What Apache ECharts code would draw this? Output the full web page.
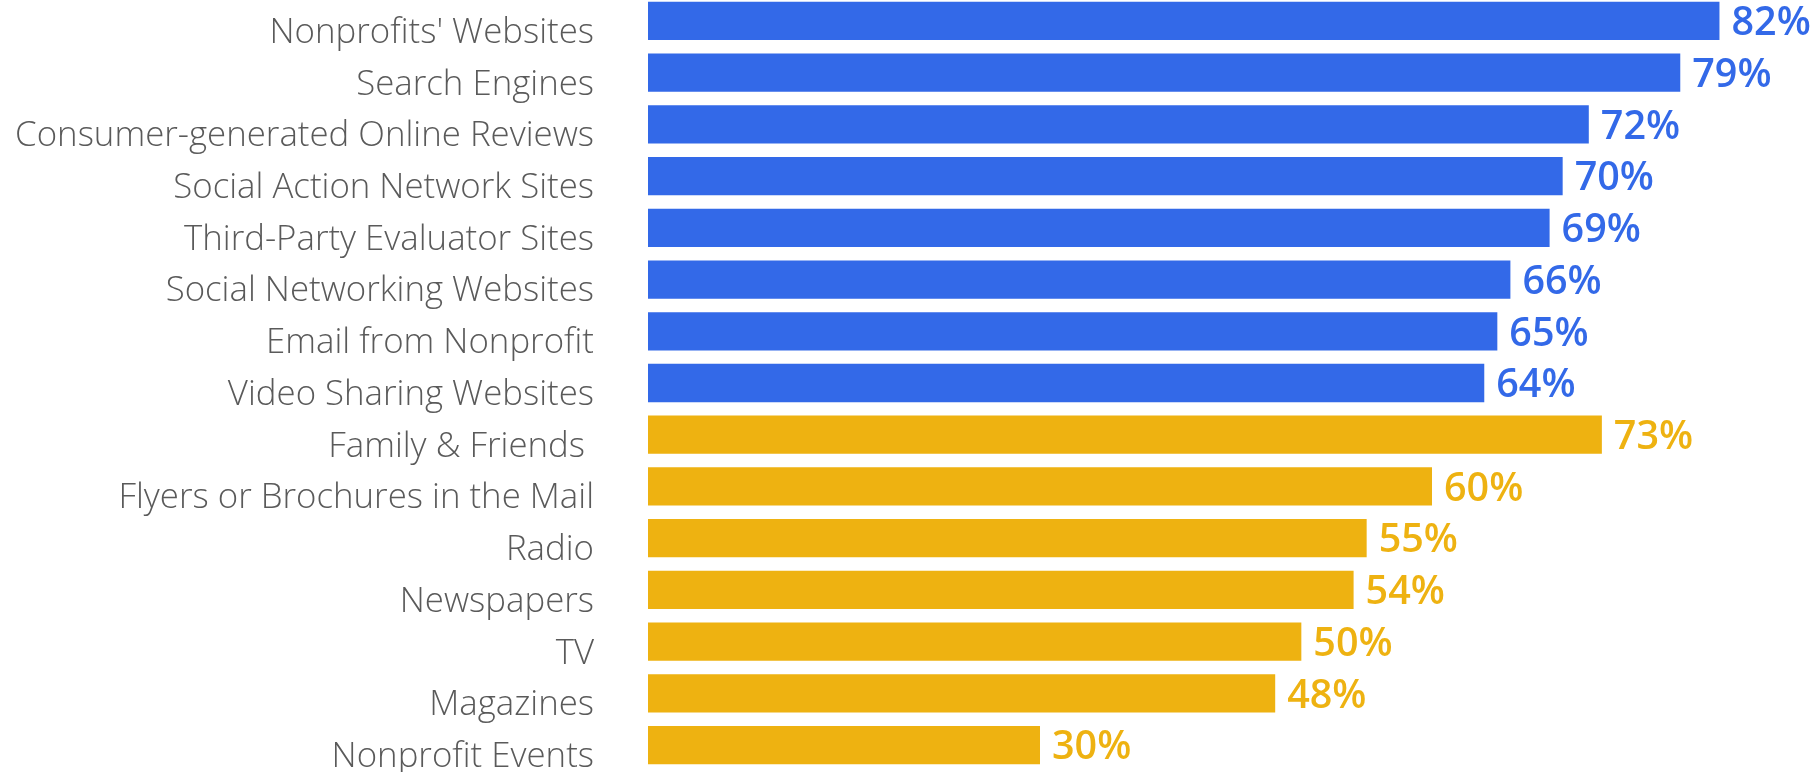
<!DOCTYPE html>
<html><head><meta charset="utf-8">
<script src="https://cdn.jsdelivr.net/npm/echarts@6/dist/echarts.min.js"></script>
<style>html,body{margin:0;padding:0;background:#fff}#c{width:1820px;height:772px}</style>
</head><body><div id="c"></div>
<script>
var categories = ["Nonprofits' Websites","Search Engines","Consumer-generated Online Reviews","Social Action Network Sites","Third-Party Evaluator Sites","Social Networking Websites","Email from Nonprofit","Video Sharing Websites","Family & Friends ","Flyers or Brochures in the Mail","Radio","Newspapers","TV","Magazines","Nonprofit Events"];
var values = [82,79,72,70,69,66,65,64,73,60,55,54,50,48,30];
var groups = ["online","online","online","online","online","online","online","online","offline","offline","offline","offline","offline","offline","offline"];
var groupColors = {online:"#3369E8", offline:"#EEB211"};

var chart = echarts.init(document.getElementById('c'));
chart.setOption({
  animation:false,
  grid:{left:648, top:-5, width:1176, height:776, containLabel:false, outerBoundsMode:'none'},
  xAxis:{type:'value', min:0, max:90, show:false},
  yAxis:{type:'category', inverse:true, data:categories,
    axisLine:{show:false}, axisTick:{show:false},
    axisLabel:{margin:54, fontFamily:'Open Sans', fontWeight:300, fontSize:34.8, color:'#5a5a5a',
      verticalAlign:'top', lineHeight:24}},
  series:[{type:'bar', barCategoryGap:'26%',
    data: values.map(function(v,i){return {value:v,
      itemStyle:{color:groupColors[groups[i]]},
      label:{color:groupColors[groups[i]]}};}),
    label:{show:true, position:'right', distance:12, offset:[0,3], formatter:'{c}%',
      fontFamily:'Open Sans', fontWeight:600, fontSize:39.5}
  }]
});
</script></body></html>
